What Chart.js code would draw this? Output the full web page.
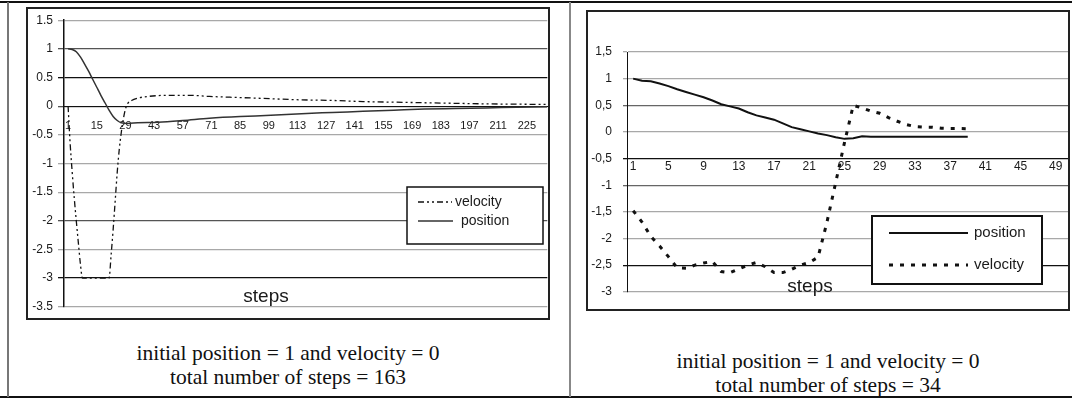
<!DOCTYPE html>
<html>
<head>
<meta charset="utf-8">
<script src="https://cdn.jsdelivr.net/npm/chart.js@4.4.0/dist/chart.umd.min.js"></script>
<style>
  html, body { margin: 0; padding: 0; background: #fff; }
  #page { position: relative; width: 1072px; height: 399px; overflow: hidden; background: #fff; }
  .abs { position: absolute; }
  .box { position: absolute; box-sizing: border-box; border: 2px solid #222; pointer-events: none; }
  .cap { position: absolute; width: 400px; text-align: center; font-family: 'Liberation Serif', 'Times New Roman', serif; font-size: 21.5px; line-height: 24px; color: #111; white-space: nowrap; }
</style>
</head>
<body>
<div id="page">
  <div class="abs" style="left:0;top:1px;width:1072px;height:2px;background:#111;"></div>
  <div class="abs" style="left:0;top:396px;width:1072px;height:2px;background:#111;"></div>
  <div class="abs" style="left:7px;top:2px;width:2px;height:395px;background:#777;"></div>
  <div class="abs" style="left:569px;top:2px;width:2px;height:395px;background:#888;"></div>

  <canvas id="c1" class="abs" width="522" height="311" style="left:27px;top:8px;width:522px;height:311px;"></canvas>
  <div class="box" style="left:26px;top:7px;width:524px;height:313px;"></div>

  <canvas id="c2" class="abs" width="482" height="299" style="left:587px;top:11px;width:482px;height:299px;"></canvas>
  <div class="box" style="left:586px;top:10px;width:484px;height:301px;"></div>

  <div class="cap" style="left:88px;top:341px;">initial position = 1 and velocity = 0<br>total number of steps = 163</div>
  <div class="cap" style="left:628px;top:349px;">initial position = 1 and velocity = 0<br>total number of steps = 34</div>
</div>
<script>
// ---------- Left chart data ----------
const ticksL = [1, 15, 29, 43, 57, 71, 85, 99, 113, 127, 141, 155, 169, 183, 197, 211, 225];
const posStepsL = [1, 3, 5, 7, 9, 11, 13, 15, 17, 19, 21, 23, 25, 27, 30, 35, 45, 57, 70, 85, 100, 115, 130, 145, 160, 175, 190, 205, 220, 235];
const posValsL  = [1.0, 0.99, 0.95, 0.86, 0.74, 0.61, 0.47, 0.33, 0.19, 0.06, -0.07, -0.18, -0.25, -0.29, -0.30, -0.29, -0.28, -0.25, -0.21, -0.18, -0.16, -0.13, -0.11, -0.09, -0.07, -0.05, -0.04, -0.03, -0.02, -0.01];
const velStepsL = [1, 2, 3, 4, 5, 6, 7, 8, 12, 16, 20, 21, 22, 23, 24, 25, 26, 27, 28, 29, 30, 32, 35, 40, 50, 60, 70, 85, 100, 115, 130, 145, 160, 175, 190, 205, 220, 235];
const velValsL  = [0, -0.65, -1.15, -1.6, -2.0, -2.38, -2.75, -3.0, -3.0, -3.0, -3.0, -3.0, -2.6, -2.15, -1.65, -1.15, -0.75, -0.45, -0.22, -0.05, 0.04, 0.1, 0.14, 0.17, 0.19, 0.19, 0.17, 0.15, 0.13, 0.11, 0.1, 0.08, 0.07, 0.06, 0.05, 0.04, 0.035, 0.03];

// ---------- Right chart data (steps 1..39) ----------
const ticksR = [1, 5, 9, 13, 17, 21, 25, 29, 33, 37, 41, 45, 49];
const posR = [1.0, 0.96, 0.95, 0.91, 0.86, 0.8, 0.75, 0.7, 0.65, 0.59, 0.52, 0.48, 0.44, 0.37, 0.31, 0.27, 0.23, 0.16, 0.09, 0.05, 0.01, -0.03, -0.06, -0.1, -0.13, -0.12, -0.08, -0.09, -0.09, -0.09, -0.09, -0.09, -0.09, -0.09, -0.09, -0.09, -0.09, -0.09, -0.09];
const velR = [-1.48, -1.69, -1.96, -2.14, -2.34, -2.55, -2.56, -2.5, -2.46, -2.43, -2.62, -2.64, -2.57, -2.5, -2.45, -2.53, -2.64, -2.64, -2.58, -2.5, -2.45, -2.35, -1.7, -0.95, -0.2, 0.5, 0.45, 0.39, 0.35, 0.27, 0.2, 0.14, 0.1, 0.09, 0.09, 0.07, 0.065, 0.065, 0.06];

const titleText = 'steps';
const SANS = "'Liberation Sans', Arial, sans-serif";
Chart.defaults.font.family = SANS;
Chart.defaults.color = '#1a1a1a';

const overlay = {
  id: 'overlay',
  afterDatasetsDraw(chart, args, o) {
    const ctx = chart.ctx;
    ctx.save();
    ctx.font = o.titleFont;
    ctx.fillStyle = '#1a1a1a';
    ctx.textAlign = 'center';
    ctx.textBaseline = 'middle';
    ctx.fillText(titleText, o.titleX, o.titleY);
    const L = o.legend;
    ctx.fillStyle = '#fff';
    ctx.fillRect(L.x, L.y, L.w, L.h);
    ctx.lineWidth = L.border;
    ctx.strokeStyle = '#111';
    ctx.strokeRect(L.x, L.y, L.w, L.h);
    L.items.forEach(it => {
      const ds = chart.data.datasets[it.index];
      ctx.beginPath();
      ctx.setLineDash(ds.borderDash || []);
      ctx.lineWidth = ds.borderWidth;
      ctx.strokeStyle = ds.borderColor;
      ctx.moveTo(it.x1, it.y);
      ctx.lineTo(it.x2, it.y);
      ctx.stroke();
      ctx.setLineDash([]);
      ctx.fillStyle = '#1a1a1a';
      ctx.textAlign = 'left';
      ctx.textBaseline = 'middle';
      ctx.font = L.font;
      ctx.fillText(ds.label, it.tx, it.y);
    });
    ctx.restore();
  }
};

function gridColL(ctx) {
  const v = ctx.tick ? ctx.tick.value : null;
  if (v === 0.5 || v === -3) return '#111';
  if (v === 1 || v === 0 || v === -2) return '#555';
  return '#a8a8a8';
}
function gridColR(ctx) {
  const v = ctx.tick ? ctx.tick.value : null;
  if (v === -0.5 || v === -2.5) return '#111';
  if (v === 0.5 || v === -1) return '#666';
  return '#a8a8a8';
}

new Chart(document.getElementById('c1'), {
  type: 'line',
  data: {
    datasets: [
      { label: 'velocity', data: velStepsL.map((s, i) => ({ x: s, y: velValsL[i] })),
        borderColor: '#111', borderWidth: 1.3, borderDash: [6, 3, 2, 3, 2, 3],
        pointRadius: 0, fill: false, tension: 0.4, cubicInterpolationMode: 'monotone' },
      { label: 'position', data: posStepsL.map((s, i) => ({ x: s, y: posValsL[i] })),
        borderColor: '#333', borderWidth: 1.5,
        pointRadius: 0, fill: false, tension: 0.4, cubicInterpolationMode: 'monotone' }
    ]
  },
  options: {
    responsive: false, animation: false, devicePixelRatio: 1,
    layout: { padding: { top: 10, bottom: 12, left: 0, right: 0 } },
    scales: {
      x: {
        type: 'linear', min: -1, max: 235, position: { y: 0 },
        afterBuildTicks: (ax) => { ax.ticks = ticksL.map(v => ({ value: v })); },
        grid: { display: false, drawTicks: false },
        border: { display: true, color: '#111', width: 1 },
        ticks: { autoSkip: false, maxRotation: 0, padding: 13, font: { size: 11 }, callback: v => String(v) }
      },
      y: {
        min: -3.5, max: 1.5,
        afterFit: (s) => { s.width = 37; },
        ticks: { stepSize: 0.5, padding: 5, font: { size: 12 }, callback: v => String(v) },
        grid: { color: gridColL, lineWidth: 1.3, tickLength: 6 },
        border: { display: true, color: '#111', width: 1.5 }
      }
    },
    plugins: {
      legend: { display: false }, tooltip: { enabled: false },
      overlay: {
        titleFont: '19px ' + SANS, titleX: 239, titleY: 289,
        legend: { x: 380, y: 179, w: 136, h: 57, border: 1.5, font: '14px ' + SANS,
          items: [ { index: 0, x1: 391, x2: 425, y: 194, tx: 428 },
                   { index: 1, x1: 391, x2: 426, y: 213, tx: 434 } ] }
      }
    }
  },
  plugins: [overlay]
});

new Chart(document.getElementById('c2'), {
  type: 'line',
  data: {
    datasets: [
      { label: 'position', data: posR.map((v, i) => ({ x: i + 1, y: v })),
        borderColor: '#111', borderWidth: 2, pointRadius: 0, fill: false, tension: 0 },
      { label: 'velocity', data: velR.map((v, i) => ({ x: i + 1, y: v })),
        borderColor: '#111', borderWidth: 3, borderDash: [4, 7],
        pointRadius: 0, fill: false, tension: 0 }
    ]
  },
  options: {
    responsive: false, animation: false, devicePixelRatio: 1,
    layout: { padding: { top: 41, bottom: 13, left: 0, right: 0 } },
    scales: {
      x: {
        type: 'linear', min: 0.3, max: 50.5, position: { y: -0.5 },
        afterBuildTicks: (ax) => { ax.ticks = ticksR.map(v => ({ value: v })); },
        grid: { display: false, drawTicks: false },
        border: { display: true, color: '#111', width: 1 },
        ticks: { autoSkip: false, maxRotation: 0, padding: 1, font: { size: 12 }, callback: v => String(v) }
      },
      y: {
        min: -3, max: 1.5,
        afterFit: (s) => { s.width = 40; },
        ticks: { stepSize: 0.5, padding: 11, font: { size: 12 }, callback: v => String(v).replace('.', ',') },
        grid: { color: gridColR, lineWidth: 1.3, tickLength: 4 },
        border: { display: true, color: '#111', width: 1 }
      }
    },
    plugins: {
      legend: { display: false }, tooltip: { enabled: false },
      overlay: {
        titleFont: '19px ' + SANS, titleX: 223, titleY: 276,
        legend: { x: 285, y: 205, w: 170, h: 68, border: 2, font: '15px ' + SANS,
          items: [ { index: 0, x1: 302, x2: 381, y: 222, tx: 387 },
                   { index: 1, x1: 302, x2: 381, y: 254, tx: 387 } ] }
      }
    }
  },
  plugins: [overlay]
});
</script>
</body>
</html>
